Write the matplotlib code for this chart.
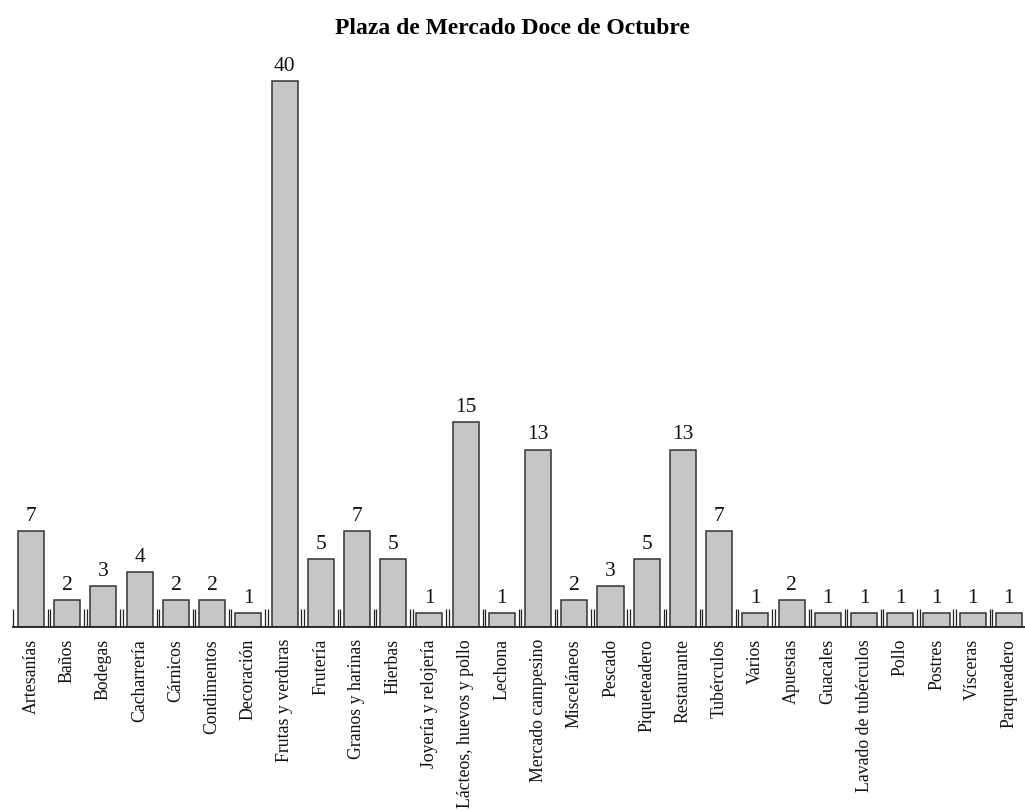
import numpy as np
import matplotlib
matplotlib.use("Agg")
import matplotlib.pyplot as plt

categorias = ["Artesanías", "Baños", "Bodegas", "Cacharrería", "Cárnicos",
              "Condimentos", "Decoración", "Frutas y verduras", "Frutería",
              "Granos y harinas", "Hierbas", "Joyería y relojería",
              "Lácteos, huevos y pollo", "Lechona", "Mercado campesino",
              "Misceláneos", "Pescado", "Piqueteadero", "Restaurante",
              "Tubérculos", "Varios", "Apuestas", "Guacales",
              "Lavado de tubérculos", "Pollo", "Postres", "Vísceras",
              "Parqueadero"]
valores = [7, 2, 3, 4, 2, 2, 1, 40, 5, 7, 5, 1, 15, 1, 13, 2, 3, 5, 13, 7,
           1, 2, 1, 1, 1, 1, 1, 1]
titulo = "Plaza de Mercado Doce de Octubre"

plt.rcParams['font.family'] = ['Liberation Serif', 'DejaVu Serif']

W, H = 1025, 812
fig = plt.figure(figsize=(W / 100, H / 100), dpi=100)

n = len(categorias)
pitch = 36.22
left_px = 31 - pitch / 2
base_px = 628
unit_px = 13.65
ymax = 44
ax = fig.add_axes([left_px / W, (H - base_px) / H, n * pitch / W, ymax * unit_px / H])

x = np.arange(n)
bars = ax.bar(x, valores, width=0.72, color="#c6c6c6", edgecolor="#333333", linewidth=1.1)
for xi, v in zip(x, valores):
    ax.text(xi, v + 0.45, str(v), ha="center", va="bottom", fontsize=15.5, color="#111111")

ax.set_xlim(-0.5, n - 0.5)
ax.set_ylim(0, ymax)
ax.set_yticks([])
for s in ["top", "right", "left"]:
    ax.spines[s].set_visible(False)
ax.spines["bottom"].set_linewidth(1.3)
ax.spines["bottom"].set_color("#222222")

ax.set_xticks(x)
ax.set_xticklabels(categorias, rotation=90, fontsize=12.8, color="#111111")
ax.tick_params(axis="x", length=0, pad=8)

# marcas dobles en los limites entre categorias, hacia arriba
limites = [-0.5]
for k in range(1, n):
    limites += [k - 0.5 - 0.033, k - 0.5 + 0.033]
ax.set_xticks(limites, minor=True)
ax.tick_params(axis="x", which="minor", direction="in", length=13, width=0.9, color="#222222")

fig.text(0.5, 1 - 28 / H, titulo, ha="center", va="center", fontsize=17, fontweight="bold")

fig.savefig("out.png", dpi=100)
